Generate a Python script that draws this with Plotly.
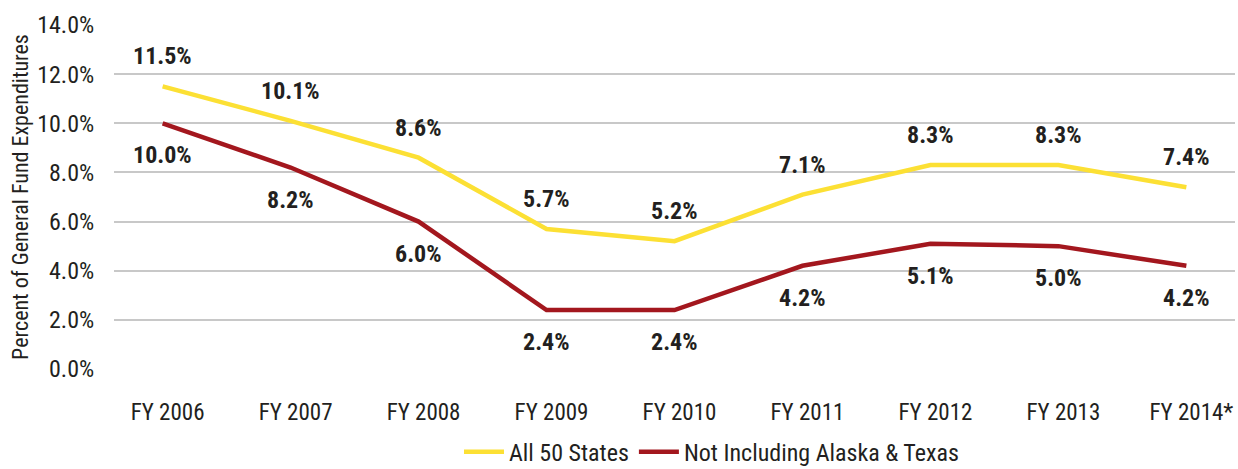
import plotly.graph_objects as go

years = ["FY 2006", "FY 2007", "FY 2008", "FY 2009", "FY 2010", "FY 2011", "FY 2012", "FY 2013", "FY 2014*"]
all_states = [11.5, 10.1, 8.6, 5.7, 5.2, 7.1, 8.3, 8.3, 7.4]
excl_ak_tx = [10.0, 8.2, 6.0, 2.4, 2.4, 4.2, 5.1, 5.0, 4.2]
y_ticks = [0, 2, 4, 6, 8, 10, 12, 14]

FONT = "Roboto Condensed, Liberation Sans Narrow, Arial Narrow, Liberation Sans, sans-serif"
YEL = "#FCE034"
RED = "#A3171E"
TXT = "#231F20"

fig = go.Figure()
fig.add_trace(go.Scatter(x=years, y=all_states, mode="lines", name="All 50 States",
                         line=dict(color=YEL, width=4.5)))
fig.add_trace(go.Scatter(x=years, y=excl_ak_tx, mode="lines", name="Not Including Alaska & Texas",
                         line=dict(color=RED, width=4.5)))

for x, v in zip(years, all_states):
    fig.add_annotation(x=x, y=v, text=f"<b>{v:.1f}%</b>", showarrow=False, yshift=30,
                       font=dict(family=FONT, size=24, color=TXT))
for x, v in zip(years, excl_ak_tx):
    fig.add_annotation(x=x, y=v, text=f"<b>{v:.1f}%</b>", showarrow=False, yshift=-32,
                       font=dict(family=FONT, size=24, color=TXT))

fig.update_layout(
    width=1238, height=469,
    margin=dict(l=114, r=3, t=25, b=100, autoexpand=False),
    paper_bgcolor="white", plot_bgcolor="white",
    font=dict(family=FONT, size=22, color=TXT),
    showlegend=True,
    legend=dict(orientation="h", x=0.533, xanchor="center", yref="container", y=0.036,
                yanchor="middle", font=dict(family=FONT, size=24, color=TXT), itemwidth=40,
                traceorder="normal"),
)
fig.update_xaxes(range=[-0.38, 8.38], showgrid=False, showline=False, zeroline=False,
                 automargin=False, ticks="outside", ticklen=22, tickcolor="rgba(0,0,0,0)",
                 ticklabelshift=5,
                 tickfont=dict(family=FONT, size=23, color=TXT))
fig.update_yaxes(range=[0, 14], tickvals=y_ticks, ticktext=[f"{t:.1f}%" for t in y_ticks],
                 showgrid=True, gridcolor="#C8C8C8", gridwidth=1.5, zeroline=False, showline=False,
                 automargin=False, ticks="outside", ticklen=14, tickcolor="rgba(0,0,0,0)",
                 tickfont=dict(family=FONT, size=24, color=TXT),
                 title=dict(text="Percent of General Fund Expenditures", standoff=2,
                            font=dict(family=FONT, size=22, color=TXT)))

fig.write_html("out.html", config={"displayModeBar": False},
               post_script="document.body.style.margin='0';")
